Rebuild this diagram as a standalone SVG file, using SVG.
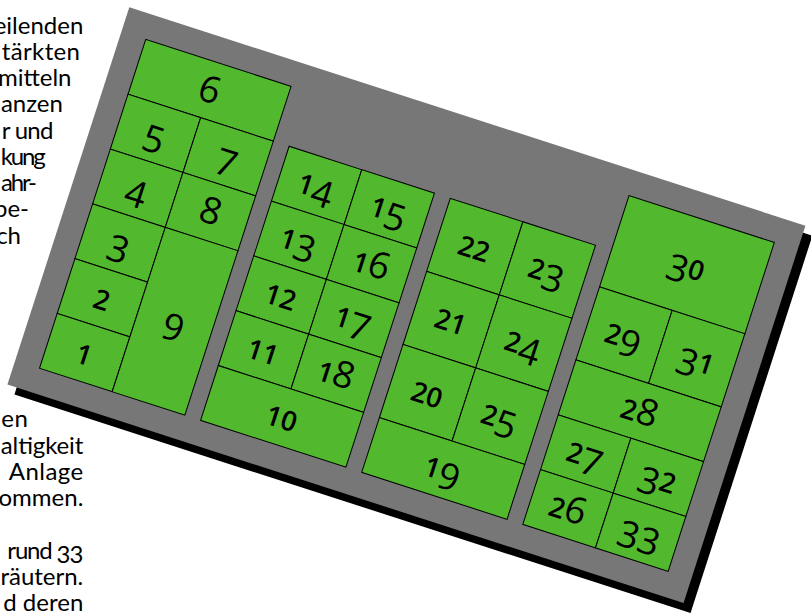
<svg xmlns="http://www.w3.org/2000/svg" width="811" height="614" viewBox="0 0 811 614">
<style>
.t{font-family:Lato,"Noto Sans",sans-serif;font-size:24px;fill:#000}
.e{text-anchor:end}
.c{fill:#52b92e;stroke:#000;stroke-width:1}
.n{font-family:"Open Sans","Noto Sans",sans-serif;font-size:37px;fill:#000;text-anchor:middle}
.s{font-size:27.5px;font-weight:600}
</style>
<rect width="811" height="614" fill="#fff"/>
<g id="text">
<text class="t e" x="83.3" y="33.5">eilenden</text>
<text class="t" x="1.7" y="59.75" textLength="78.3" lengthAdjust="spacing">tärkten</text>
<text class="t e" x="71.5" y="86">mitteln</text>
<text class="t" x="1" y="112.25" textLength="61.8" lengthAdjust="spacing">anzen</text>
<text class="t" x="1.7" y="138.5" textLength="51.8" lengthAdjust="spacing">r und</text>
<text class="t" x="0.8" y="164.75" textLength="45" lengthAdjust="spacing">kung</text>
<text class="t" x="1" y="191" textLength="36" lengthAdjust="spacing">ahr-</text>
<text class="t e" x="29" y="217.25">be-</text>
<text class="t e" x="21" y="243.5">ch</text>
<text class="t" x="1.3" y="427.25" textLength="26.5" lengthAdjust="spacing">en</text>
<text class="t" x="0.8" y="453.5" textLength="82.5" lengthAdjust="spacing">altigkeit</text>
<text class="t" x="8.8" y="479.75" textLength="74.5" lengthAdjust="spacing">Anlage</text>
<text class="t e" x="83.3" y="506">ommen.</text>
<text class="t" x="7.3" y="558.5" textLength="76" lengthAdjust="spacing">rund <tspan dy="4">33</tspan></text>
<text class="t e" x="83.3" y="584.75">räutern.</text>
<text class="t e" x="83.3" y="611">d deren</text>
</g>
<rect id="shadow" x="0" y="0" width="710.5" height="396.5" fill="#000" transform="translate(136.3,17.3) rotate(17.9)"/>
<g id="plan" transform="translate(129.3,7.3) rotate(17.9)">
<rect id="base" x="0" y="0" width="710.5" height="396.5" fill="#777"/>
<g id="n6"><rect class="c" x="25.5" y="25.5" width="152.7" height="57.6"/><text class="n" x="101.85" y="66.3">6</text></g>
<g id="n5"><rect class="c" x="25.5" y="83.1" width="76.35" height="57.6"/><text class="n" x="63.7" y="123.9"><tspan dy="7.4">5</tspan></text></g>
<g id="n7"><rect class="c" x="101.85" y="83.1" width="76.35" height="57.6"/><text class="n" x="140" y="123.9"><tspan dy="7.4">7</tspan></text></g>
<g id="n4"><rect class="c" x="25.5" y="140.7" width="76.35" height="57.6"/><text class="n" x="63.7" y="181.5"><tspan dy="7.4">4</tspan></text></g>
<g id="n8"><rect class="c" x="101.85" y="140.7" width="76.35" height="57.6"/><text class="n" x="140" y="181.5">8</text></g>
<g id="n3"><rect class="c" x="25.5" y="198.3" width="76.35" height="57.6"/><text class="n" x="63.7" y="239.1"><tspan dy="7.4">3</tspan></text></g>
<g id="n2"><rect class="c" x="25.5" y="255.9" width="76.35" height="57.6"/><text class="n" x="63.7" y="296.7"><tspan class="s">2</tspan></text></g>
<g id="n1"><rect class="c" x="25.5" y="313.5" width="76.35" height="57.6"/><text class="n" x="63.7" y="354.3"><tspan class="s">1</tspan></text></g>
<g id="n9"><rect class="c" x="101.85" y="198.3" width="76.35" height="172.8"/><text class="n" x="140" y="296.7"><tspan dy="7.4">9</tspan></text></g>
<g id="n14"><rect class="c" x="194.8" y="83.1" width="76.35" height="57.6"/><text class="n" x="233" y="123.9"><tspan class="s">1</tspan><tspan dy="7.4">4</tspan></text></g>
<g id="n15"><rect class="c" x="271.15" y="83.1" width="76.35" height="57.6"/><text class="n" x="309.3" y="123.9"><tspan class="s">1</tspan><tspan dy="7.4">5</tspan></text></g>
<g id="n13"><rect class="c" x="194.8" y="140.7" width="76.35" height="57.6"/><text class="n" x="233" y="181.5"><tspan class="s">1</tspan><tspan dy="7.4">3</tspan></text></g>
<g id="n16"><rect class="c" x="271.15" y="140.7" width="76.35" height="57.6"/><text class="n" x="309.3" y="181.5"><tspan class="s">1</tspan>6</text></g>
<g id="n12"><rect class="c" x="194.8" y="198.3" width="76.35" height="57.6"/><text class="n" x="233" y="239.1"><tspan class="s">12</tspan></text></g>
<g id="n17"><rect class="c" x="271.15" y="198.3" width="76.35" height="57.6"/><text class="n" x="309.3" y="239.1"><tspan class="s">1</tspan><tspan dy="7.4">7</tspan></text></g>
<g id="n11"><rect class="c" x="194.8" y="255.9" width="76.35" height="57.6"/><text class="n" x="233" y="296.7"><tspan class="s">11</tspan></text></g>
<g id="n18"><rect class="c" x="271.15" y="255.9" width="76.35" height="57.6"/><text class="n" x="309.3" y="296.7"><tspan class="s">1</tspan>8</text></g>
<g id="n10"><rect class="c" x="194.8" y="313.5" width="152.7" height="57.6"/><text class="n" x="271.15" y="354.3"><tspan class="s">10</tspan></text></g>
<g id="n22"><rect class="c" x="364.1" y="83.1" width="76.35" height="76.8"/><text class="n" x="402.3" y="133.5"><tspan class="s">22</tspan></text></g>
<g id="n23"><rect class="c" x="440.45" y="83.1" width="76.35" height="76.8"/><text class="n" x="478.6" y="133.5"><tspan class="s">2</tspan><tspan dy="7.4">3</tspan></text></g>
<g id="n21"><rect class="c" x="364.1" y="159.9" width="76.35" height="76.8"/><text class="n" x="402.3" y="210.3"><tspan class="s">21</tspan></text></g>
<g id="n24"><rect class="c" x="440.45" y="159.9" width="76.35" height="76.8"/><text class="n" x="478.6" y="210.3"><tspan class="s">2</tspan><tspan dy="7.4">4</tspan></text></g>
<g id="n20"><rect class="c" x="364.1" y="236.7" width="76.35" height="76.8"/><text class="n" x="402.3" y="287.1"><tspan class="s">20</tspan></text></g>
<g id="n25"><rect class="c" x="440.45" y="236.7" width="76.35" height="76.8"/><text class="n" x="478.6" y="287.1"><tspan class="s">2</tspan><tspan dy="7.4">5</tspan></text></g>
<g id="n19"><rect class="c" x="364.1" y="313.5" width="152.7" height="57.6"/><text class="n" x="440.45" y="354.3"><tspan class="s">1</tspan><tspan dy="7.4">9</tspan></text></g>
<g id="n30"><rect class="c" x="533.4" y="25.5" width="152.7" height="96"/><text class="n" x="609.75" y="85.5"><tspan dy="7.4">3</tspan><tspan class="s" dy="-7.4">0</tspan></text></g>
<g id="n29"><rect class="c" x="533.4" y="121.5" width="76.35" height="76.8"/><text class="n" x="571.6" y="171.9"><tspan class="s">2</tspan><tspan dy="7.4">9</tspan></text></g>
<g id="n31"><rect class="c" x="609.75" y="121.5" width="76.35" height="76.8"/><text class="n" x="647.9" y="171.9"><tspan dy="7.4">3</tspan><tspan class="s" dy="-7.4">1</tspan></text></g>
<g id="n28"><rect class="c" x="533.4" y="198.3" width="152.7" height="57.6"/><text class="n" x="609.75" y="239.1"><tspan class="s">2</tspan>8</text></g>
<g id="n27"><rect class="c" x="533.4" y="255.9" width="76.35" height="57.6"/><text class="n" x="571.6" y="296.7"><tspan class="s">2</tspan><tspan dy="7.4">7</tspan></text></g>
<g id="n32"><rect class="c" x="609.75" y="255.9" width="76.35" height="57.6"/><text class="n" x="647.9" y="296.7"><tspan dy="7.4">3</tspan><tspan class="s" dy="-7.4">2</tspan></text></g>
<g id="n26"><rect class="c" x="533.4" y="313.5" width="76.35" height="57.6"/><text class="n" x="571.6" y="354.3"><tspan class="s">2</tspan>6</text></g>
<g id="n33"><rect class="c" x="609.75" y="313.5" width="76.35" height="57.6"/><text class="n" x="647.9" y="354.3"><tspan dy="7.4">33</tspan></text></g>
</g>
<g id="connectors"/>
</svg>
